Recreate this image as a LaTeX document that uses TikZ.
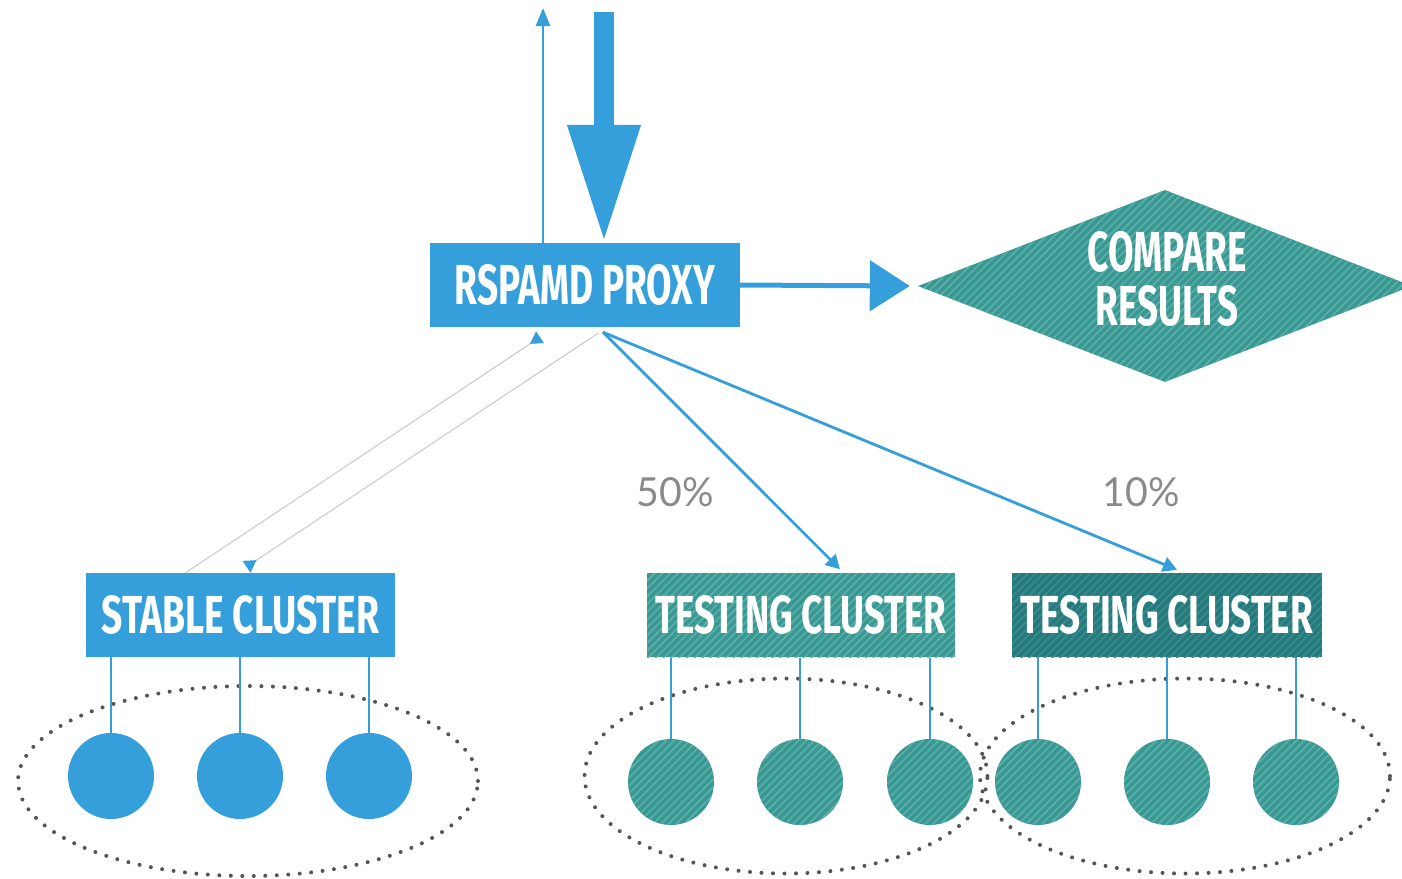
\documentclass[tikz,border=0pt]{standalone}
\usepackage{fontspec}
\setsansfont{Fira Sans}
\newfontfamily\labfont{Lato}
\usetikzlibrary{arrows.meta,shapes.geometric,patterns.meta}
\definecolor{rblue}{HTML}{349FDA}
\definecolor{tealA}{HTML}{3A9893}
\definecolor{tealAs}{HTML}{5DB1AC}
\definecolor{tealB}{HTML}{277A7C}
\definecolor{tealBs}{HTML}{3B8E90}
\definecolor{dotgrey}{HTML}{555555}
\definecolor{pctgrey}{HTML}{8A8A8A}
\definecolor{thingrey}{HTML}{C9C9C9}
\newcommand{\fittext}[3]{\resizebox{#1pt}{#2pt}{\bfseries\sffamily #3}}
\begin{document}
\begin{tikzpicture}[x=1pt,y=-1pt,
  bluebox/.style={rectangle, fill=rblue, inner sep=0pt, minimum height=84pt, text=white},
  tealfillA/.style={preaction={fill=tealA}, pattern={Lines[angle=45,distance=5.5pt,line width=1.5pt]}, pattern color=tealAs},
  tealfillB/.style={preaction={fill=tealB}, pattern={Lines[angle=45,distance=5.5pt,line width=1.5pt]}, pattern color=tealBs},
  tealbox/.style={rectangle, tealfillA, inner sep=0pt, minimum height=84pt, text=white},
  darkbox/.style={rectangle, tealfillB, inner sep=0pt, minimum height=84pt, text=white},
  bnode/.style={circle, fill=rblue, minimum size=86pt, inner sep=0pt},
  tnode/.style={circle, tealfillA, minimum size=86pt, inner sep=0pt},
  dotell/.style={ellipse, draw=dotgrey, line width=4pt, dash pattern=on 0pt off 11.5pt, line cap=round, inner sep=0pt},
  link/.style={rblue, line width=2.5pt},
  feed/.style={rblue, line width=2.8pt, -{Triangle[width=15pt,length=14pt]}},
  faint/.style={thingrey, line width=1pt},
  pct/.style={text=pctgrey, inner sep=0pt}
]
\useasboundingbox (0,0) rectangle (1402,878);

% dotted cluster outlines
\node[dotell, minimum width=460pt, minimum height=190pt] (se) at (248,781) {};
\node[dotell, minimum width=403pt, minimum height=195pt] (te1) at (786,776) {};
\node[dotell, minimum width=410pt, minimum height=195pt] (te2) at (1185,776) {};

% main boxes
\node[bluebox, minimum width=310pt] (proxy) at (585,285) {\fittext{260}{40}{RSPAMD PROXY}};
\node[bluebox, minimum width=309pt] (stable) at (240.5,615) {\fittext{278}{38}{STABLE CLUSTER}};
\node[tealbox, minimum width=308pt] (test1) at (801,615) {\fittext{291}{38}{TESTING CLUSTER}};
\node[darkbox, minimum width=310pt] (test2) at (1167,615) {\fittext{292}{38}{TESTING CLUSTER}};

% compare diamond
\node[diamond, tealfillA, minimum width=494pt, minimum height=192pt, inner sep=0pt] (cmp) at (1165,286) {};
\node[text=white, align=center, inner sep=0pt] (cmptext) at (1167,279)
  {\fittext{159}{40}{COMPARE}\\[12pt]\fittext{142}{40}{RESULTS}};

% incoming / outgoing at the top
\coordinate (intop) at (604,12);
\coordinate (outtop) at (543,8);
\draw[rblue, line width=20pt, -{Triangle[width=68pt,length=118pt]}] (intop) -- (intop |- proxy.north);
\draw[rblue, line width=2.5pt, -{Triangle[width=14pt,length=18pt]}] (proxy.north -| outtop) -- (outtop);

% proxy to compare
\draw[rblue, line width=5pt, -{Triangle[width=50pt,length=40pt]}] (proxy.east) -- ([xshift=-8pt]cmp.west);

% proxy to testing clusters
\draw[feed] ([xshift=18pt,yshift=-5pt]proxy.south) -- ([xshift=39pt,yshift=3pt]test1.north);
\draw[feed] ([xshift=18pt,yshift=-5pt]proxy.south) -- ([xshift=10pt,yshift=3pt]test2.north);

% proxy <-> stable (faint)
\draw[faint, -{Triangle[reversed,width=14pt,length=12pt,color=rblue]}] ([xshift=-55pt]stable.north) -- ([xshift=-45pt,yshift=-10pt]proxy.south);
\draw[faint, -{Triangle[reversed,width=14pt,length=12pt,color=rblue]}] ([xshift=13pt,yshift=-6pt]proxy.south) -- ([xshift=6pt,yshift=6pt]stable.north);

% percentages
\node[pct] (p50) at (675,492) {\resizebox{77pt}{29pt}{\labfont 50\%}};
\node[pct] (p10) at (1141,492) {\resizebox{77pt}{29pt}{\labfont 10\%}};

% stable cluster members
\node[bnode] (s1) at (111,776) {};
\node[bnode] (s2) at (240,776) {};
\node[bnode] (s3) at (369,776) {};
\foreach \n in {s1,s2,s3} \draw[link] (\n |- stable.south) -- (\n.north);

% testing cluster 1 members
\node[tnode] (a1) at (671,782) {};
\node[tnode] (a2) at (800,782) {};
\node[tnode] (a3) at (930,782) {};
\foreach \n in {a1,a2,a3} \draw[link] (\n |- test1.south) -- (\n.north);

% testing cluster 2 members
\node[tnode] (b1) at (1038,782) {};
\node[tnode] (b2) at (1167,782) {};
\node[tnode] (b3) at (1296,782) {};
\foreach \n in {b1,b2,b3} \draw[link] (\n |- test2.south) -- (\n.north);
\end{tikzpicture}
\end{document}
